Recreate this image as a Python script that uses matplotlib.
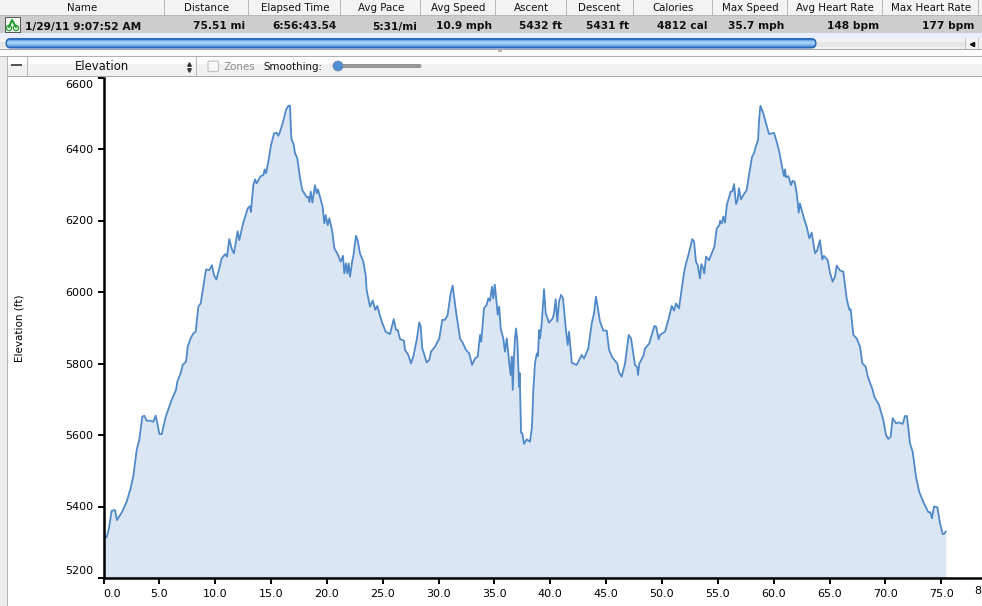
#Elevation profile of a bike ride (training log screenshot)
import numpy as np
import matplotlib
matplotlib.use("Agg")
import matplotlib.pyplot as plt
from matplotlib.colors import LinearSegmentedColormap
from matplotlib.patches import Rectangle, FancyBboxPatch, Circle
from matplotlib.transforms import ScaledTranslation

#distance in miles
miles = [0.0,0.28,0.49,0.73,1.03,1.21,1.63,2.07,2.43,2.67,2.97,3.2,3.47,3.65,3.87,4.16,4.46,4.67,4.82,5.0,
    5.21,5.57,5.89,6.1,6.49,6.61,6.91,7.09,7.39,7.54,7.8,8.04,8.25,8.49,8.7,8.94,9.18,9.47,9.71,9.89,
    10.1,10.37,10.58,10.9,11.06,11.26,11.5,11.68,12.01,12.16,12.46,12.91,13.11,13.2,13.41,13.56,13.71,14.07,14.31,14.43,
    14.55,14.76,15.0,15.27,15.5,15.65,15.8,16.04,16.34,16.55,16.7,16.79,16.85,17.0,17.15,17.35,17.6,17.8,18.2,18.34,
    18.43,18.55,18.7,18.93,19.09,19.2,19.38,19.62,19.77,19.89,20.07,20.22,20.46,20.67,20.93,21.23,21.44,21.56,21.71,21.83,
    21.95,22.07,22.28,22.36,22.6,22.75,22.96,23.26,23.47,23.56,23.86,24.1,24.33,24.51,24.91,25.26,25.65,25.98,26.19,26.34,
    26.55,26.9,26.99,27.29,27.53,27.73,28.04,28.27,28.4,28.54,28.69,28.93,29.17,29.32,29.68,30.06,30.33,30.57,30.81,31.08,
    31.26,31.56,31.92,32.16,32.45,32.75,32.99,33.26,33.5,33.71,33.82,34.06,34.3,34.45,34.6,34.78,34.9,35.03,35.2,35.29,
    35.43,35.56,35.79,35.94,36.1,36.33,36.45,36.55,36.64,36.75,36.84,36.93,37.05,37.2,37.26,37.38,37.49,37.65,37.89,38.18,
    38.36,38.48,38.63,38.79,38.9,38.99,39.08,39.23,39.44,39.59,39.88,40.21,40.33,40.48,40.63,40.78,40.96,41.14,41.4,41.56,
    41.68,41.92,42.36,42.81,43.02,43.4,43.71,43.91,44.09,44.45,44.75,45.05,45.26,45.55,46.0,46.13,46.39,46.69,47.02,47.23,
    47.58,47.79,47.85,47.97,48.33,48.48,48.86,49.08,49.31,49.47,49.7,49.82,50.27,50.57,50.87,51.08,51.26,51.52,51.67,51.97,
    52.15,52.36,52.71,52.87,53.04,53.2,53.4,53.52,53.7,53.79,53.94,54.21,54.45,54.69,54.9,55.14,55.2,55.35,55.49,55.64,
    55.8,56.15,56.3,56.45,56.63,56.77,56.89,57.07,57.28,57.58,57.79,58.06,58.24,58.39,58.6,58.69,58.81,59.07,59.31,59.58,
    60.03,60.27,60.5,60.72,60.92,61.01,61.1,61.31,61.55,61.7,61.88,62.06,62.24,62.35,62.71,62.95,63.19,63.4,63.7,63.9,
    64.14,64.35,64.5,64.84,65.04,65.28,65.49,65.64,65.94,66.23,66.53,66.77,66.89,67.13,67.43,67.73,67.94,68.24,68.42,68.83,
    69.01,69.43,69.81,70.05,70.26,70.47,70.65,70.95,71.24,71.55,71.75,71.93,72.2,72.44,72.74,73.03,73.39,73.84,74.02,74.17,
    74.35,74.65,74.89,75.13,75.25,75.4]

#elevation in feet
elevation = [5314,5314,5339,5388,5390,5362,5383,5413,5451,5485,5558,5586,5651,5654,5640,5640,5637,5654,5633,5603,
    5602,5651,5679,5698,5726,5749,5773,5796,5805,5847,5870,5884,5889,5959,5968,6015,6063,6061,6075,6047,
    6035,6066,6094,6106,6099,6148,6119,6108,6170,6145,6187,6234,6240,6224,6299,6315,6304,6324,6327,6343,
    6332,6365,6411,6444,6445,6437,6448,6472,6509,6521,6521,6444,6425,6416,6388,6374,6318,6285,6265,6266,
    6252,6281,6250,6299,6276,6287,6266,6238,6192,6215,6187,6206,6173,6122,6108,6085,6101,6052,6080,6052,
    6080,6043,6089,6099,6157,6145,6108,6085,6047,6005,5959,5976,5950,5961,5917,5889,5882,5924,5894,5894,
    5868,5864,5838,5824,5800,5819,5866,5915,5903,5842,5828,5803,5810,5833,5847,5870,5922,5922,5936,5996,
    6018,5945,5870,5858,5838,5828,5796,5814,5819,5880,5861,5954,5964,5982,5975,6015,5982,6021,5968,5936,
    5959,5898,5870,5833,5870,5800,5768,5819,5726,5819,5870,5898,5866,5735,5773,5606,5605,5575,5588,5581,
    5623,5726,5800,5828,5821,5894,5870,5912,6008,5940,5914,5926,5940,5980,5917,5973,5992,5982,5894,5852,
    5889,5802,5796,5824,5814,5842,5912,5940,5987,5917,5892,5892,5838,5817,5800,5777,5763,5800,5880,5870,
    5796,5789,5768,5800,5821,5842,5856,5880,5905,5903,5868,5880,5889,5922,5961,5948,5968,5954,5987,6054,
    6080,6103,6148,6141,6085,6075,6038,6078,6066,6052,6099,6089,6108,6127,6178,6187,6199,6192,6211,6194,
    6243,6281,6281,6302,6246,6257,6290,6259,6271,6285,6327,6378,6388,6406,6425,6481,6521,6500,6472,6442,
    6445,6420,6392,6355,6324,6343,6321,6324,6299,6311,6308,6276,6222,6248,6206,6183,6150,6166,6108,6117,
    6145,6091,6101,6089,6054,6029,6043,6074,6060,6057,5982,5950,5952,5880,5870,5847,5800,5791,5763,5729,
    5707,5684,5642,5600,5589,5595,5647,5633,5635,5631,5653,5653,5577,5553,5483,5441,5413,5384,5384,5367,
    5400,5398,5353,5323,5323,5330]

x_ticks = [0,5,10,15,20,25,30,35,40,45,50,55,60,65,70,75]
y_ticks = [5200,5400,5600,5800,6000,6200,6400,6600]

#header table of the screenshot
col_names = ["Name","Distance","Elapsed Time","Avg Pace","Avg Speed","Ascent","Descent","Calories","Max Speed","Avg Heart Rate","Max Heart Rate"]
col_values = ["1/29/11 9:07:52 AM","75.51 mi","6:56:43.54","5:31/mi","10.9 mph","5432 ft","5431 ft","4812 cal","35.7 mph","148 bpm","177 bpm"]
name_x = [82,207,295,381,458,531,599,673,750,835,931]
value_x = [25,245,337,417,492,562,629,708,784,879,974]
sep_x = [164,248,340,420,495,566,633,712,787,882,978]

W, H = 982, 606
plt.rcParams['font.family'] = ['DejaVu Sans']
fig = plt.figure(figsize=(W/100, H/100), dpi=100, facecolor='white')

#main chart, placed in pixels
ax = fig.add_axes([103.5/W, 1-578/H, (W-103.5)/W, (578-77.5)/H])
ax.set_xlim(0, (W-103.5)/11.17)
ax.set_ylim(5200, 6600)
ax.fill_between(miles, elevation, 5200, color='#dbe6f4', lw=0)
ax.plot(miles, elevation, color='#5089c8', lw=1.3)
ax.axhline(5203, xmax=75.4/ax.get_xlim()[1], color='#c4d0de', lw=1)
ax.spines['top'].set_visible(False)
ax.spines['right'].set_visible(False)
ax.spines['left'].set_linewidth(1.8)
ax.spines['bottom'].set_linewidth(1.8)
ax.set_xticks(x_ticks)
ax.set_xticklabels(["%.1f" % t for t in x_ticks], fontsize=8)
ax.set_yticks(y_ticks)
ax.set_yticklabels([str(t) for t in y_ticks], fontsize=8)
ax.tick_params(axis='x', length=4, width=1.4, pad=4)
ax.tick_params(axis='y', length=4.5, width=1.4, pad=3)
ax.get_xticklabels()[0].set_ha('left')

#first and last y labels sit inside the axis range
nudge_top = ScaledTranslation(0, -3/100, fig.dpi_scale_trans)
nudge_bot = ScaledTranslation(0, 2/100, fig.dpi_scale_trans)
top_lab = ax.get_yticklabels()[-1]
top_lab.set_va('top')
top_lab.set_transform(top_lab.get_transform() + nudge_top)
bot_lab = ax.get_yticklabels()[0]
bot_lab.set_va('bottom')
bot_lab.set_transform(bot_lab.get_transform() + nudge_bot)

fig.text(20/W, 1-328/H, "Elevation (ft)", rotation=90, ha='center', va='center', fontsize=7.5)
#the next tick label is cut by the window in the screenshot, only its first digit shows
fig.text(981.5/W, 1-591/H, "8", ha='right', va='center', fontsize=8)

#window chrome on top, y axis pointing down in pixels
ui = fig.add_axes([0, 0, 1, 1], facecolor='none')
ui.set_axis_off()

def box(x, y, w, h, color):
    ui.add_patch(Rectangle((x, y), w, h, facecolor=color, edgecolor='none'))

box(0, 0, W, 15, '#f3f3f3')
box(0, 15, W, 1, '#b8b8b8')
box(0, 16, W, 17, '#cdcdcd')
box(0, 33, W, 5, '#e8eefc')
box(0, 38, W, 11, '#f2f2f2')
box(0, 42, 966, 5, '#e6e6e6')
box(0, 49, W, 1, '#a6a6a6')
box(0, 50, W, 6, '#fbfbfb')
box(0, 56, W, 1, '#b0b0b0')
box(8, 57, W, 7, '#fcfcfc')
box(8, 64, W, 12, '#f1f1f1')
box(8, 75.5, W, 1, '#a8a8a8')
box(0, 57, 7, H, '#ececec')
box(7, 57, 1, H, '#b4b4b4')
box(27, 57, 1, 19, '#b8b8b8')
box(196, 57, 1, 19, '#b8b8b8')
box(11, 64, 11, 2, '#555555')
box(965, 38, 1.5, 11, '#c0c0c0')
box(978, 38, 1, 11, '#c8c8c8')
box(498, 50, 4, 2, '#b8b8b8')
for x in sep_x:
    box(x, 0, 1, 15, '#b8b8b8')
ui.plot([972], [43.5], marker='<', ms=3, color='#111111')

#scroll bar capsule with a shine in the middle
grad = np.array([[0.0],[0.55],[0.8],[1.0],[0.9],[0.75],[0.55],[0.2]])
cap = FancyBboxPatch((7, 39.5), 808, 7.5, boxstyle="round,pad=0,rounding_size=3.5", facecolor='none', edgecolor='none')
ui.add_patch(FancyBboxPatch((5.5, 38), 811, 10.5, boxstyle="round,pad=0,rounding_size=5", facecolor='#2a68bb', edgecolor='none'))
ui.add_patch(cap)
shine = LinearSegmentedColormap.from_list('shine', ['#2f78d2', '#a8d6f8'])
img = ui.imshow(grad, extent=(6, 816, 47, 39.5), aspect='auto', cmap=shine, zorder=2)
img.set_clip_path(cap)

#bike icon
box(5, 17, 15, 15, '#f4f8ee')
ui.add_patch(Rectangle((5, 17), 15, 15, facecolor='none', edgecolor='#555555', lw=0.7))
ui.add_patch(Circle((9, 28), 2.6, facecolor='none', edgecolor='#1f9a2e', lw=0.9))
ui.add_patch(Circle((16, 28), 2.6, facecolor='none', edgecolor='#1f9a2e', lw=0.9))
ui.plot([9, 12, 16], [27, 20, 27], color='#1f9a2e', lw=1.4)

#smoothing slider and checkbox
ui.add_patch(FancyBboxPatch((333, 64.5), 88, 3, boxstyle="round,pad=0,rounding_size=1.5", facecolor='#9a9a9a', edgecolor='#808080', lw=0.5))
ui.add_patch(Circle((338, 66), 5, facecolor='#4f8fd8', edgecolor='#7a8ea8', lw=0.6, zorder=3))
ui.add_patch(FancyBboxPatch((208, 61), 10.5, 10.5, boxstyle="round,pad=0,rounding_size=1.5", facecolor='#f8f8f8', edgecolor='#c0c0c0', lw=0.8))
ui.plot([189], [63.5], marker='^', ms=2.5, color='#333333')
ui.plot([189], [70], marker='v', ms=2.5, color='#333333')

for i in range(len(col_names)):
    ui.text(name_x[i], 11, col_names[i], ha='center', va='baseline', fontsize=7.4, color='#111111')
    #texts with a slash land higher than the others
    row_y = 28.6
    if "/" in col_values[i]:
        row_y = 29.8
    ui.text(value_x[i], row_y, col_values[i], ha='left' if i == 0 else 'right', va='baseline', fontsize=7.7, fontweight='bold', color='#111111')
ui.text(102, 70.5, "Elevation", ha='center', va='baseline', fontsize=8.4, color='#111111')
ui.text(224, 70, "Zones", ha='left', va='baseline', fontsize=7.4, color='#8c8c8c')
ui.text(263, 70, "Smoothing:", ha='left', va='baseline', fontsize=7.4, color='#111111')

ui.set_xlim(0, W)
ui.set_ylim(H, 0)

fig.savefig('out.png', dpi=100)
